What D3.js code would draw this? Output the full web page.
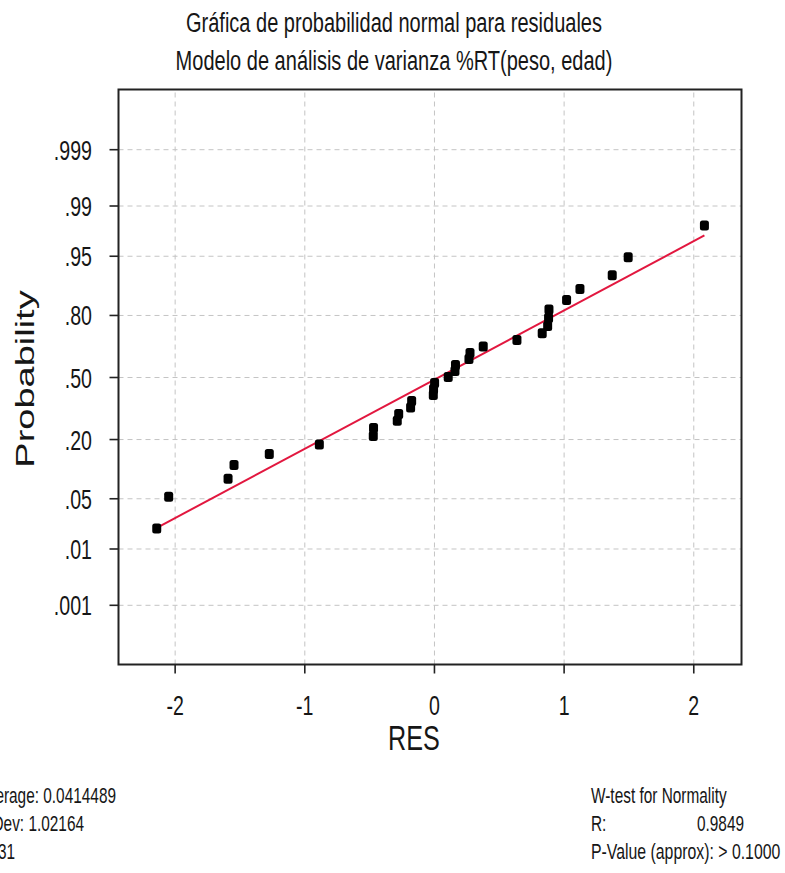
<!DOCTYPE html>
<html>
<head>
<meta charset="utf-8">
<script src="https://cdn.jsdelivr.net/npm/d3@7"></script>
<style>
  html, body { margin: 0; padding: 0; background: #fff; }
  svg { display: block; font-family: "Liberation Sans", Arial, sans-serif; }
  text { fill: #161616; }
</style>
</head>
<body>
<svg id="chart" width="785" height="873"></svg>
<script>
// Residuals of the ANOVA model, sorted
const residuals = [-2.138, -2.046, -1.588, -1.542, -1.270, -0.884, -0.468, -0.466, -0.283, -0.272,
                   -0.180, -0.172, -0.005, -0.003, 0.005, 0.110, 0.162, 0.166, 0.270, 0.278,
                   0.380, 0.640, 0.835, 0.877, 0.884, 0.887, 1.023, 1.126, 1.375, 1.498, 2.086];
// Cumulative probability plotted for each residual
const probabilities = [0.020, 0.052, 0.084, 0.116, 0.148, 0.180, 0.212, 0.244, 0.276, 0.308,
                       0.340, 0.372, 0.404, 0.436, 0.468, 0.500, 0.532, 0.564, 0.596, 0.628,
                       0.660, 0.692, 0.724, 0.756, 0.788, 0.820, 0.852, 0.884, 0.916, 0.948, 0.980];

const probTicks  = [0.999, 0.99, 0.95, 0.80, 0.50, 0.20, 0.05, 0.01, 0.001];
const probLabels = [".999", ".99", ".95", ".80", ".50", ".20", ".05", ".01", ".001"];
const xTicks     = [-2, -1, 0, 1, 2];

const titleLines = ["Gráfica de probabilidad normal para residuales",
                    "Modelo de análisis de varianza %RT(peso, edad)"];
const statsLeft  = ["Average: 0.0414489", "StDev: 1.02164", "N: 31"];
const wTitle     = "W-test for Normality";
const rLabel     = "R:";
const rValue     = "0.9849";
const pValueText = "P-Value (approx): > 0.1000";

// Inverse of the standard normal CDF (Acklam's rational approximation)
function probit(p) {
  const a = [-3.969683028665376e+01, 2.209460984245205e+02, -2.759285104469687e+02,
             1.383577518672690e+02, -3.066479806614716e+01, 2.506628277459239e+00];
  const b = [-5.447609879822406e+01, 1.615858368580409e+02, -1.556989798598866e+02,
             6.680131188771972e+01, -1.328068155288572e+01];
  const c = [-7.784894002430293e-03, -3.223964580411365e-01, -2.400758277161838e+00,
             -2.549732539343734e+00, 4.374664141464968e+00, 2.938163982698783e+00];
  const d = [7.784695709041462e-03, 3.224671290700398e-01, 2.445134137142996e+00,
             3.754408661907416e+00];
  const pl = 0.02425, ph = 1 - pl;
  if (p < pl) {
    const q = Math.sqrt(-2 * Math.log(p));
    return (((((c[0]*q+c[1])*q+c[2])*q+c[3])*q+c[4])*q+c[5]) / ((((d[0]*q+d[1])*q+d[2])*q+d[3])*q+1);
  }
  if (p <= ph) {
    const q = p - 0.5, r = q * q;
    return (((((a[0]*r+a[1])*r+a[2])*r+a[3])*r+a[4])*r+a[5])*q / (((((b[0]*r+b[1])*r+b[2])*r+b[3])*r+b[4])*r+1);
  }
  const q = Math.sqrt(-2 * Math.log(1 - p));
  return -(((((c[0]*q+c[1])*q+c[2])*q+c[3])*q+c[4])*q+c[5]) / ((((d[0]*q+d[1])*q+d[2])*q+d[3])*q+1);
}

const svg = d3.select("#chart");
const plot = { left: 118.5, right: 741.5, top: 89.5, bottom: 664.5 };
const SX = 0.7; // horizontal compression of the lettering

const x = d3.scaleLinear().domain([-2.433, 2.372]).range([plot.left, plot.right]);
const yz = d3.scaleLinear().domain([-3.9, 3.9]).range([plot.bottom, plot.top]);
const y = p => yz(probit(p));

function label(parent, str, tx, ty, size, anchor, sx) {
  return parent.append("text")
    .attr("transform", `translate(${tx},${ty}) scale(${sx == null ? SX : sx},1)`)
    .attr("text-anchor", anchor)
    .style("font-size", size + "px")
    .text(str);
}

// Titles
titleLines.forEach((t, i) => label(svg, t, 394, 32 + i * 38, 28, "middle", 0.715));

// Grid
const grid = svg.append("g").attr("class", "grid");
grid.append("g")
  .attr("transform", `translate(${plot.left},0)`)
  .call(d3.axisLeft(yz).tickValues(probTicks.map(probit))
    .tickSize(-(plot.right - plot.left)).tickFormat(""));
grid.append("g")
  .attr("transform", `translate(0,${plot.bottom})`)
  .call(d3.axisBottom(x).tickValues(xTicks)
    .tickSize(-(plot.bottom - plot.top)).tickFormat(""));
grid.selectAll(".domain").remove();
grid.selectAll("line")
  .attr("stroke", "#c4c4c4").attr("stroke-width", 1).attr("stroke-dasharray", "5,4");

// Axes with outward ticks
const yAxis = svg.append("g")
  .attr("transform", `translate(${plot.left},0)`)
  .call(d3.axisLeft(yz).tickValues(probTicks.map(probit))
    .tickFormat((d, i) => probLabels[i]).tickSize(9).tickSizeOuter(0));
const xAxis = svg.append("g")
  .attr("transform", `translate(0,${plot.bottom})`)
  .call(d3.axisBottom(x).tickValues(xTicks)
    .tickFormat(d => d).tickSize(9).tickSizeOuter(0));
[yAxis, xAxis].forEach(g => {
  g.select(".domain").remove();
  g.selectAll(".tick line").attr("stroke", "#222").attr("stroke-width", 1.6);
  g.selectAll(".tick text").attr("fill", "#161616")
    .style("font-family", "'Liberation Sans', Arial, sans-serif").style("font-size", "28px");
});
yAxis.selectAll(".tick text")
  .attr("x", null).attr("dy", null)
  .attr("transform", `translate(-26.5,10) scale(${SX},1)`);
xAxis.selectAll(".tick text")
  .attr("y", null).attr("dy", null)
  .attr("transform", `translate(0,50.5) scale(${SX},1)`);

// Frame
svg.append("rect")
  .attr("x", plot.left).attr("y", plot.top)
  .attr("width", plot.right - plot.left).attr("height", plot.bottom - plot.top)
  .attr("fill", "none").attr("stroke", "#222").attr("stroke-width", 2);

// Least-squares line of normal score on residual
const scores = probabilities.map(probit);
const mx = d3.mean(residuals), mz = d3.mean(scores);
const slope = d3.sum(residuals, (r, i) => (r - mx) * (scores[i] - mz)) /
              d3.sum(residuals, r => (r - mx) * (r - mx));
const fitX = d3.extent(residuals);
svg.append("path")
  .datum(fitX)
  .attr("d", d3.line().x(r => x(r)).y(r => yz(mz + slope * (r - mx))))
  .attr("stroke", "#e2173f").attr("stroke-width", 2).attr("fill", "none");

// Residual points
svg.append("g").selectAll("rect")
  .data(residuals)
  .join("rect")
  .attr("x", r => x(r) - 4.5)
  .attr("y", (r, i) => y(probabilities[i]) - 5)
  .attr("width", 9).attr("height", 10).attr("rx", 2.5)
  .attr("fill", "#000");

// Axis titles
label(svg, "RES", 414, 750, 36, "middle");
svg.append("text")
  .attr("transform", "translate(34,379) rotate(-90) scale(1,0.7)")
  .attr("text-anchor", "middle")
  .style("font-size", "38px")
  .text("Probability");

// Summary statistics
statsLeft.forEach((t, i) => label(svg, t, [116, 84, 15][i], 803 + i * 28, 22, "end"));
label(svg, wTitle, 591, 803, 22, "start");
label(svg, rLabel, 591, 831, 22, "start");
label(svg, rValue, 744, 831, 22, "end");
label(svg, pValueText, 591, 859, 22, "start", 0.72);
</script>
</body>
</html>
